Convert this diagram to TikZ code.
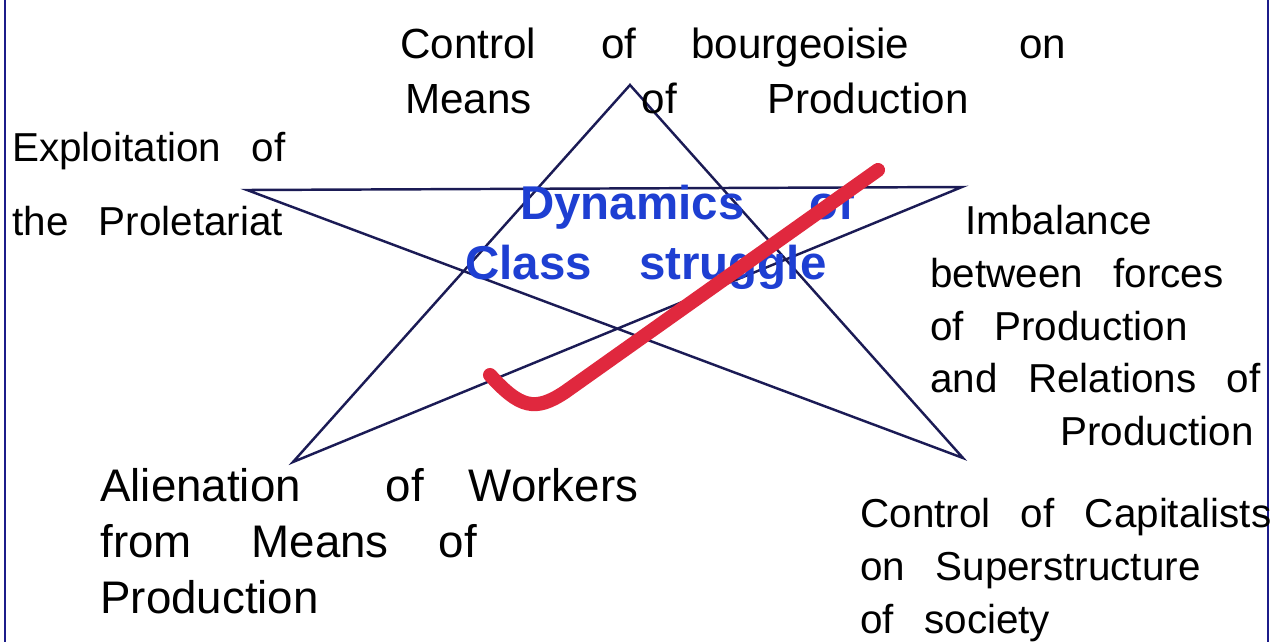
\documentclass[tikz,border=0pt]{standalone}
\usepackage{fontspec}
\setmainfont{Liberation Sans}
\usepackage{xcolor}
\usepackage{tikz}
\usetikzlibrary{positioning,calc}

\definecolor{starline}{HTML}{1B1B55}
\definecolor{frameline}{HTML}{1C1C8A}
\definecolor{marker}{HTML}{1E3FD2}
\definecolor{tickred}{HTML}{E0283E}

\newcommand{\lblfont}{\fontsize{23}{30}\selectfont\spaceskip=0.75em plus 0.2em}
\newcommand{\gap}[1]{\hspace*{#1}}

\begin{document}
\begin{tikzpicture}[
  x=0.02cm, y=-0.02cm,
  lbl/.style={inner sep=0pt, align=left, font=\lblfont},
  mid/.style={inner sep=0pt, align=left, text=marker,
    font=\fontsize{27}{34}\selectfont\bfseries},
  star/.style={draw=starline, line width=1.4pt, line join=miter},
  tick/.style={draw=tickred, line width=8pt, line cap=round, line join=round}
]
  \useasboundingbox (0,0) rectangle (1275,642);
  \draw[frameline, line width=1.2pt] (5,0) -- (5,642);
  \draw[frameline, line width=1.2pt] (1268,0) -- (1268,642);

  % star points
  \coordinate (top) at (630,85);
  \coordinate (lft) at (247,190);
  \coordinate (rgt) at (962,187);
  \coordinate (bl) at (293,462);
  \coordinate (br) at (963,458);
  \draw[star] (top) -- (bl) -- (rgt) -- (lft) -- (br) -- cycle;

  % labels
  \node[lbl, anchor=north west, font=\fontsize{24}{31}\selectfont] (ctrl) at (400,28)
    {Control\gap{1.3cm}of\gap{1.1cm}bourgeoisie\gap{2.2cm}on\\
     \gap{0.1cm}Means\gap{2.2cm}of\gap{1.8cm}Production};
  \node[lbl, anchor=north west] (expl) at (12,132)
    {Exploitation of\\[12pt]the Proletariat};
  \node[lbl, anchor=north west] (imb) at (930,205)
    {\gap{0.7cm}Imbalance\\between forces\\of Production\\and Relations of\\\gap{2.6cm}Production};
  \node[lbl, anchor=north west, font=\fontsize{26}{32}\selectfont] (alien) at (100,468)
    {Alienation\gap{1.7cm}of\gap{0.9cm}Workers\\
     from\gap{1.2cm}Means\gap{1cm}of\\Production};
  \node[lbl, anchor=north west] (capt) at (860,498)
    {Control of Capitalists\\on Superstructure\\of society};

  \node[mid, anchor=north west] (dyn) at (465,185)
    {\gap{1.1cm}Dynamics\gap{1.3cm}of\\Class\quad struggle};

  % red check mark
  \coordinate (tickA) at (490,375);
  \coordinate (tickB) at (878,170);
  \draw[tick] (tickA) .. controls (520,408) and (535,412) .. (565,392) -- (tickB);
\end{tikzpicture}
\end{document}
